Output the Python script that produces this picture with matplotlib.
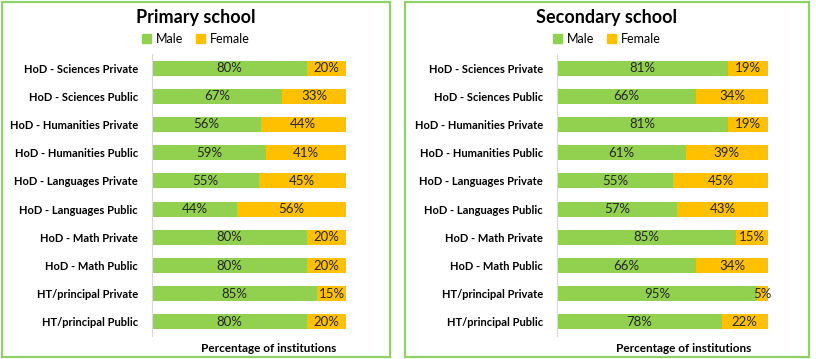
import matplotlib
matplotlib.use('Agg')
import matplotlib.pyplot as plt
from matplotlib.patches import Rectangle, Patch

categories = [
    "HoD - Sciences Private", "HoD - Sciences Public",
    "HoD - Humanities Private", "HoD - Humanities Public",
    "HoD - Languages Private", "HoD - Languages Public",
    "HoD - Math Private", "HoD - Math Public",
    "HT/principal Private", "HT/principal Public",
]
primary_male = [80, 67, 56, 59, 55, 44, 80, 80, 85, 80]
primary_female = [20, 33, 44, 41, 45, 56, 20, 20, 15, 20]
secondary_male = [81, 66, 81, 61, 55, 57, 85, 66, 95, 78]
secondary_female = [19, 34, 19, 39, 45, 43, 15, 34, 5, 22]

GREEN = '#92D050'
ORANGE = '#FFC000'
BORDER = '#8FD26A'
W, H = 816, 359

plt.rcParams['font.family'] = ['Lato', 'DejaVu Sans']

fig = plt.figure(figsize=(W / 100, H / 100), dpi=100)
fig.patch.set_facecolor('white')


def px_rect(x0, y0, x1, y1):
    return [x0 / W, 1 - y1 / H, (x1 - x0) / W, (y1 - y0) / H]


def draw_panel(box, ax_box, title, male, female):
    bx0, by0, bx1, by1 = box
    fig.patches.append(Rectangle((bx0 / W, 1 - by1 / H), (bx1 - bx0) / W, (by1 - by0) / H,
                                 transform=fig.transFigure, fill=False,
                                 edgecolor=BORDER, linewidth=1.6))
    cx = (bx0 + bx1) / 2 / W
    fig.text(cx, 1 - 17 / H, title, ha='center', va='center',
             fontsize=13, fontweight='bold', color='black')

    ax = fig.add_axes(px_rect(*ax_box))
    y = list(range(len(categories)))
    ax.barh(y, male, height=0.53, color=GREEN)
    ax.barh(y, female, left=male, height=0.53, color=ORANGE)
    for i, (m, f) in enumerate(zip(male, female)):
        ax.text(m / 2, i, f"{m}%", ha='center', va='center', fontsize=9.5, color='#262626')
        ax.text(m + f / 2, i, f"{f}%", ha='center', va='center', fontsize=9.5, color='#262626')
    ax.set_xlim(0, 100)
    ax.set_ylim(len(categories) - 0.5, -0.5)
    ax.set_yticks(y)
    ax.set_yticklabels(categories, fontsize=8, fontweight='bold')
    ax.tick_params(axis='y', length=0, pad=10)
    ax.set_xticks([])
    for s in ['top', 'right', 'bottom']:
        ax.spines[s].set_visible(False)
    ax.spines['left'].set_color('#D9D9D9')
    ax.set_xlabel("Percentage of institutions", fontsize=8.5, fontweight='bold')
    ax.xaxis.set_label_coords(0.6, -0.025, transform=ax.transAxes)
    ax.xaxis.label.set_va('top')

    handles = [Patch(color=GREEN, label='Male'), Patch(color=ORANGE, label='Female')]
    fig.legend(handles=handles, loc='center', bbox_to_anchor=(cx, 1 - 39 / H),
               ncol=2, frameon=False, fontsize=9, handlelength=0.7, handleheight=0.7,
               columnspacing=1.0, handletextpad=0.4)


draw_panel((2, 2, 390, 357), (152, 54, 346, 336), "Primary school",
           primary_male, primary_female)
draw_panel((405, 2, 809, 357), (557, 54, 768, 336), "Secondary school",
           secondary_male, secondary_female)

fig.savefig('out.png', dpi=100, facecolor='white')
